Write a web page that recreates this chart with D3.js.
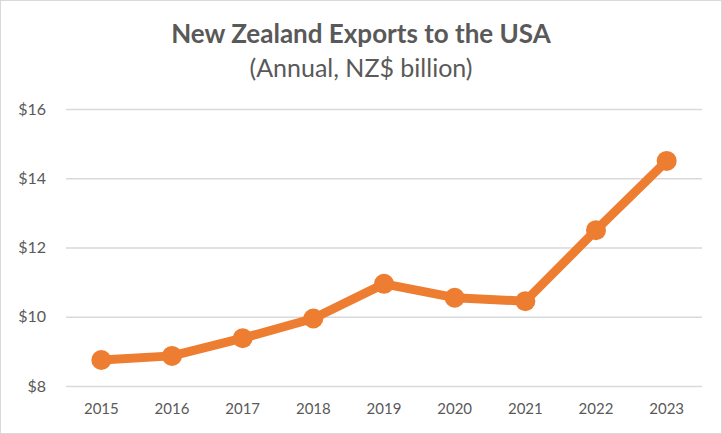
<!DOCTYPE html>
<html><head><meta charset="utf-8">
<script src="https://cdn.jsdelivr.net/npm/d3@7"></script>
<style>body{margin:0;background:#fff}svg{display:block}</style>
</head><body>
<script>
const years = ["2015","2016","2017","2018","2019","2020","2021","2022","2023"];
const exportsBn = [8.75, 8.87, 9.38, 9.95, 10.95, 10.55, 10.45, 12.5, 14.5];
const yTicks = [8, 10, 12, 14, 16];
const title = "New Zealand Exports to the USA";
const subtitle = "(Annual, NZ$ billion)";

const W = 722, H = 434;
const m = {left: 66, right: 20, top: 109, bottom: 48};
const svg = d3.select("body").append("svg").attr("width", W).attr("height", H);
svg.append("rect").attr("x",0.5).attr("y",0.5).attr("width",W-1).attr("height",H-1)
  .attr("fill","#fff").attr("stroke","#d9d9d9");

const font = "Lato, 'Open Sans', sans-serif";
const x = d3.scaleBand().domain(years).range([m.left, W - m.right]);
const y = d3.scaleLinear().domain([8, 16]).range([H - m.bottom, m.top]);

svg.append("text").attr("x", W/2).attr("y", 43).attr("text-anchor","middle")
  .attr("font-family", font).attr("font-weight","bold").attr("font-size", 26)
  .attr("fill","#595959").text(title);
svg.append("text").attr("x", W/2).attr("y", 77).attr("text-anchor","middle")
  .attr("font-family", font).attr("font-size", 25)
  .attr("fill","#595959").text(subtitle);

const ya = svg.append("g").attr("transform", `translate(${m.left},0)`)
  .call(d3.axisLeft(y).tickValues(yTicks).tickSize(-(W - m.left - m.right)).tickPadding(20)
    .tickFormat(d => "$" + d));
ya.select(".domain").remove();
ya.selectAll("line").attr("stroke","#d9d9d9").attr("stroke-width",1.3);
ya.selectAll("text").attr("font-family", font).attr("font-size", 16).attr("fill","#595959");

const xa = svg.append("g").attr("transform", `translate(0,${H - m.bottom})`)
  .call(d3.axisBottom(x).tickSize(0).tickPadding(17));
xa.select(".domain").remove();
xa.selectAll("text").attr("font-family", font).attr("font-size", 15).attr("fill","#595959");

const color = "#ED7D31";
const pts = years.map((yr, i) => [x(yr) + x.bandwidth()/2, y(exportsBn[i])]);
svg.append("path").attr("d", d3.line()(pts)).attr("fill","none")
  .attr("stroke", color).attr("stroke-width", 9).attr("stroke-linejoin","round");
svg.selectAll("circle.pt").data(pts).join("circle").attr("class","pt")
  .attr("cx", d => d[0]).attr("cy", d => d[1]).attr("r", 10).attr("fill", color);
</script>
</body></html>
